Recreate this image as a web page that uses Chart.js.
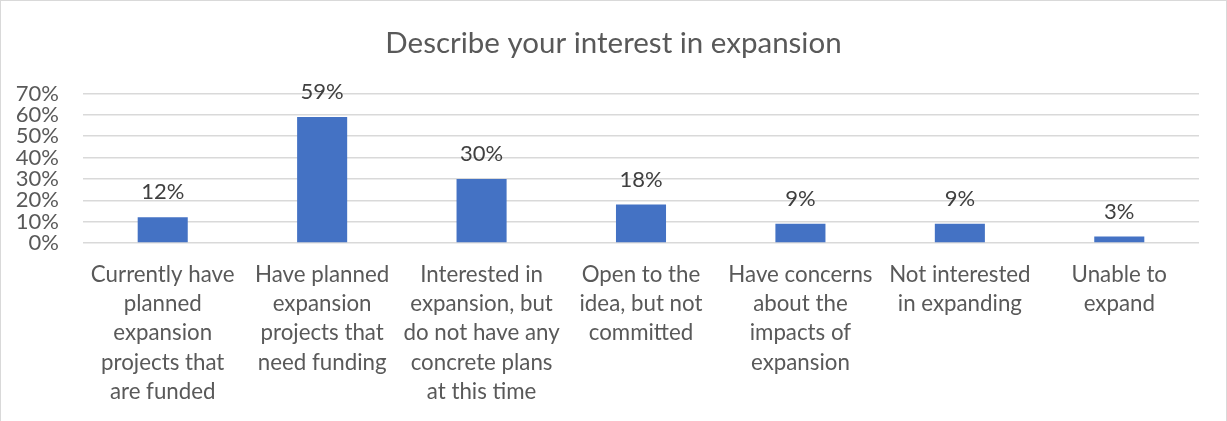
<!DOCTYPE html>
<html>
<head>
<meta charset="utf-8">
<title>Describe your interest in expansion</title>
<script src="https://cdn.jsdelivr.net/npm/chart.js@4/dist/chart.umd.min.js"></script>
<style>
  html, body { margin: 0; padding: 0; background: #fff; }
  #frame {
    position: absolute; left: 0; top: 0;
    width: 1227px; height: 421px;
    box-sizing: border-box;
    border: 1px solid #d9d9d9; border-bottom: none;
    background: #fff;
  }
  #chart { display: block; }
</style>
</head>
<body>
<div id="frame">
  <canvas id="chart" width="1225" height="420"></canvas>
</div>
<script>
// answers (share of respondents, %)
const categories = [
  ['Currently have', 'planned', 'expansion', 'projects that', 'are funded'],
  ['Have planned', 'expansion', 'projects that', 'need funding'],
  ['Interested in', 'expansion, but', 'do not have any', 'concrete plans', 'at this time'],
  ['Open to the', 'idea, but not', 'committed'],
  ['Have concerns', 'about the', 'impacts of', 'expansion'],
  ['Not interested', 'in expanding'],
  ['Unable to', 'expand']
];
const shares = [12, 59, 30, 18, 9, 9, 3];
const yTicks = [0, 10, 20, 30, 40, 50, 60, 70];
const chartTitle = 'Describe your interest in expansion';

const FONT = 'Lato, "Open Sans", "Liberation Sans", sans-serif';

// title centred on the whole canvas + value labels above each bar
const barLabels = {
  id: 'barLabels',
  afterDatasetsDraw(chart) {
    const ctx = chart.ctx;
    const meta = chart.getDatasetMeta(0);
    ctx.save();
    ctx.textAlign = 'center';

    ctx.font = '29.5px ' + FONT;
    ctx.fillStyle = '#595959';
    ctx.textBaseline = 'middle';
    ctx.fillText(chartTitle, chart.width / 2, 42);

    ctx.font = '22px ' + FONT;
    ctx.fillStyle = '#404040';
    ctx.textBaseline = 'alphabetic';
    meta.data.forEach((bar, i) => {
      ctx.fillText(shares[i] + '%', bar.x, bar.y - 18);
    });
    ctx.restore();
  }
};

new Chart(document.getElementById('chart').getContext('2d'), {
  type: 'bar',
  data: {
    labels: categories,
    datasets: [{
      data: shares,
      backgroundColor: '#4472C4',
      borderWidth: 0,
      categoryPercentage: 1,
      barPercentage: 0.314
    }]
  },
  options: {
    responsive: false,
    animation: false,
    layout: { padding: { left: 0, right: 27, top: 92.5, bottom: 0 } },
    plugins: {
      legend: { display: false },
      tooltip: { enabled: false },
      title: { display: false }
    },
    scales: {
      x: {
        grid: { display: false, drawTicks: false },
        border: { display: false },
        ticks: {
          color: '#595959',
          font: { family: FONT, size: 22.3, lineHeight: 1.314 },
          maxRotation: 0,
          autoSkip: false,
          padding: 17
        },
        afterFit(scale) { scale.height = 178; }
      },
      y: {
        min: 0,
        max: 70,
        afterBuildTicks(scale) { scale.ticks = yTicks.map(v => ({ value: v })); },
        grid: { color: '#d9d9d9', lineWidth: 1.5, drawTicks: false },
        border: { display: false },
        ticks: {
          color: '#595959',
          font: { family: FONT, size: 22 },
          padding: 24,
          autoSkip: false,
          callback: v => v + '%'
        },
        afterFit(scale) { scale.width = 82; }
      }
    }
  },
  plugins: [barLabels]
});
</script>
</body>
</html>
